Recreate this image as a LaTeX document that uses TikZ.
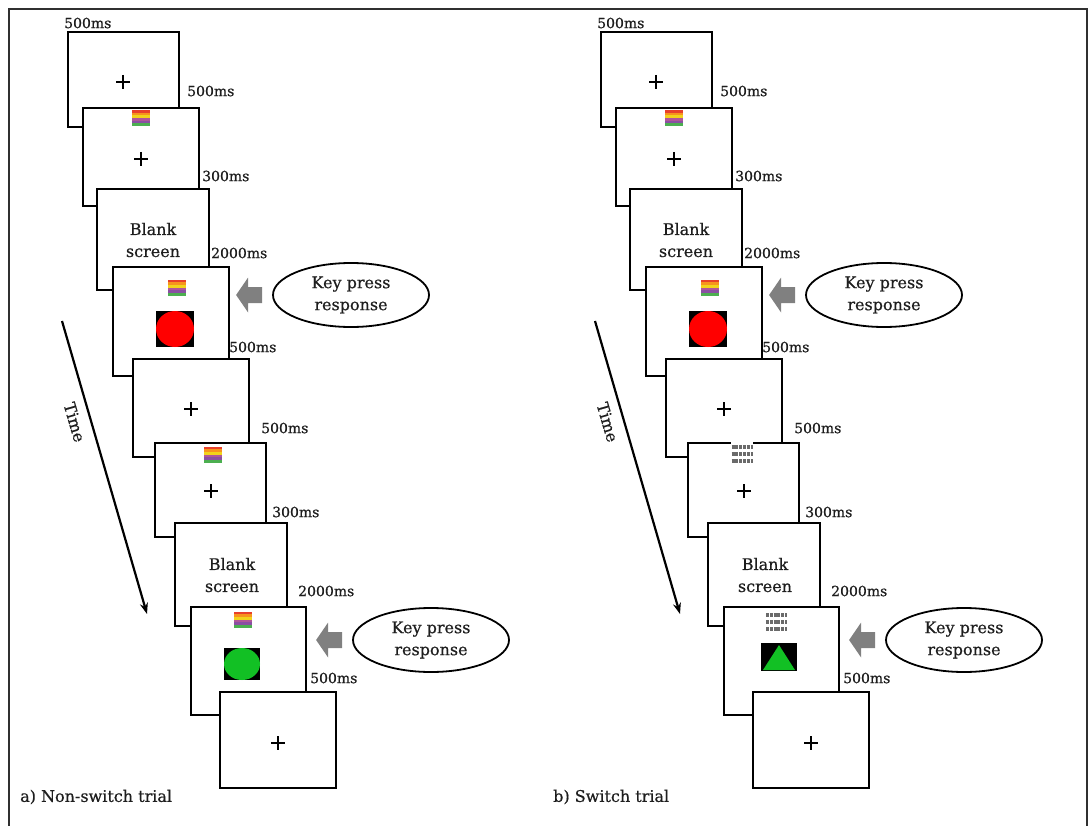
\documentclass[tikz,border=0pt]{standalone}
\usepackage{fontspec}
\setmainfont{DejaVu Serif}[FakeBold=0.6]
\usetikzlibrary{shapes.geometric,arrows.meta}
\definecolor{txt}{HTML}{1E1E1E}
\definecolor{framegrey}{HTML}{303030}
\definecolor{arrowgrey}{HTML}{808080}
\definecolor{barsgrey}{HTML}{6A6A6A}
\definecolor{cueR}{HTML}{E8402A}
\definecolor{cueO}{HTML}{F7941D}
\definecolor{cueY}{HTML}{F2D31B}
\definecolor{cueP}{HTML}{B0569A}
\definecolor{cueV}{HTML}{8A4FA3}
\definecolor{cueG}{HTML}{4CAF50}
\definecolor{stimred}{HTML}{FF0000}
\definecolor{stimgreen}{HTML}{12C024}
\newcommand{\colourcue}[1]{\begin{scope}[shift={(#1)}]
	\foreach \c [count=\i from 0] in {cueR,cueO,cueY,cueP,cueV,cueG}
		\fill[\c] (-9,{-8+\i*2.667}) rectangle ++(18,2.8);
\end{scope}}
\newcommand{\greycue}[1]{\begin{scope}[shift={(#1)}]
	\fill[white] (-11,-13) rectangle (11,10);
	\foreach \r in {-7,0,7}
		\draw[barsgrey, line width=4pt, dash pattern=on 3pt off 0.8pt] (-10.5,\r) -- (10.5,\r);
\end{scope}}
\newcommand{\pressarrow}[1]{\fill[arrowgrey] ([xshift=-10pt,yshift=8pt]#1.west) -- ++(-14,0) -- ++(0,-9.5) -- ++(-12,17.5) -- ++(12,17.5) -- ++(0,-9.5) -- ++(14,0) -- cycle;}
\tikzset{
	screen/.style={draw, line width=2pt, fill=white, inner sep=0pt},
	dur/.style={anchor=west, inner sep=0pt, text=txt, font=\fontsize{14}{16}\selectfont},
	words/.style={align=center, inner sep=0pt, text=txt, font=\fontsize{16}{22}\selectfont},
	respond/.style={words, draw=black, ellipse, line width=1.8pt, minimum width=156pt, minimum height=64pt},
	timeline/.style={line width=2.2pt, -{Stealth[length=11pt,width=8pt]}},
	fixcross/.pic={\draw[line width=2pt] (-7,0) -- (7,0) (0,-7) -- (0,7);},
}
\begin{document}
\begin{tikzpicture}[x=1pt, y=-1pt]
	\useasboundingbox (0,0) rectangle (1091,826);
	\draw[line width=1.6pt, framegrey] (9,830) |- (1087,9) -- (1087,830);
	\foreach \dx/\tag/\ptitle in {0/a/{a) Non-switch trial}, 533/b/{b) Switch trial}} {
		\begin{scope}[xshift=\dx]
			\foreach \n/\xa/\ya/\xb/\yb in {1/68/32/179/127, 2/83/108/199/206, 3/97/189/209/290,
				4/113/267/229/376, 5/133/359/249/457, 6/155/443/266/537, 7/175/523/287/626,
				8/191/607/306/715, 9/220/692/336/788}
				\node[screen, minimum width={\xb-\xa}, minimum height={\yb-\ya}] (\tag\n) at ({(\xa+\xb)/2},{(\ya+\yb)/2}) {};
			\foreach \dur/\x/\y [count=\i] in {500/64/23, 500/187/91, 300/202/176, 2000/211/253, 500/229/347,
				500/261/428, 300/272/512, 2000/298/591, 500/310/678}
				\node[dur] (\tag d\i) at (\x,\y) {\dur ms};
			\pic at (123,82) {fixcross};
			\pic at (141,159) {fixcross};
			\pic at (191,409) {fixcross};
			\pic at (211,491) {fixcross};
			\pic at (278,743) {fixcross};
			\colourcue{141,118}
			\colourcue{177,287.5}
			\node[words] (\tag blank1) at (153,240) {Blank\\screen};
			\node[words] (\tag blank2) at (232,575) {Blank\\screen};
			\fill[black] (156,311) rectangle (194,347);
			\fill[stimred] (175,329) ellipse [x radius=19pt, y radius=18pt];
			\ifnum\dx=0
				\colourcue{212.5,454.5}
				\colourcue{242.5,619.5}
				\fill[black] (224,648) rectangle (260,680);
				\fill[stimgreen] (242,664) ellipse [x radius=18pt, y radius=16pt];
			\else
				\greycue{209,454}
				\greycue{243.5,622}
				\fill[black] (228,643) rectangle (264,671);
				\fill[stimgreen] (246,645) -- (262,670) -- (230,670) -- cycle;
			\fi
			\node[respond] (\tag k1) at (351,295) {Key press\\response};
			\node[respond] (\tag k2) at (431,640) {Key press\\response};
			\pressarrow{\tag k1}
			\pressarrow{\tag k2}
			\coordinate (\tag t0) at (62,321);
			\coordinate (\tag t1) at (147,614);
			\draw[timeline] (\tag t0) -- node[pos=0.33, sloped, below=9pt, inner sep=0pt, text=txt, font=\fontsize{16}{18}\selectfont] {Time} (\tag t1);
			\node[words, anchor=west, font=\fontsize{16}{18}\selectfont] (\tag title) at (20,797) {\ptitle};
		\end{scope}
	}
\end{tikzpicture}
\end{document}
